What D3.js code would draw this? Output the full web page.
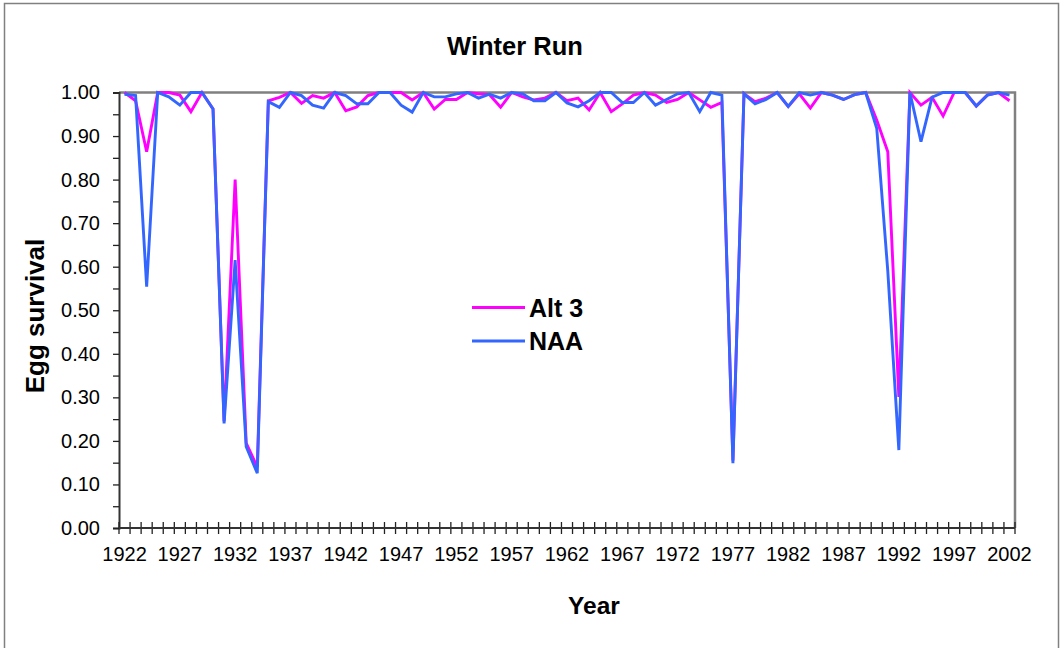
<!DOCTYPE html>
<html>
<head>
<meta charset="utf-8">
<script src="https://cdn.jsdelivr.net/npm/d3@7"></script>
<style>
	body { margin: 0; background: #fff; }
	svg text { font-family: Arial, 'Liberation Sans', sans-serif; fill: #000; }
</style>
</head>
<body>
<svg id="chart" width="1063" height="648"></svg>
<script>
// years on the category axis
var years = d3.range(1922, 2003);

var tickYears = d3.range(1922, 2003, 5);

// egg survival
var alt3 = [1.000, 0.981, 0.864, 1.000, 1.000, 0.994, 0.956, 1.000, 0.962, 0.245,
	0.800, 0.195, 0.140, 0.981, 0.989, 1.000, 0.975, 0.993, 0.987, 1.000,
	0.958, 0.967, 0.993, 1.000, 1.000, 1.000, 0.983, 1.000, 0.962, 0.984,
	0.984, 1.000, 0.997, 0.995, 0.966, 1.000, 0.990, 0.983, 0.987, 1.000,
	0.981, 0.987, 0.960, 1.000, 0.956, 0.974, 0.994, 1.000, 0.994, 0.977,
	0.984, 1.000, 0.983, 0.966, 0.977, 0.155, 0.997, 0.979, 0.987, 1.000,
	0.968, 0.997, 0.964, 1.000, 0.994, 0.984, 0.995, 1.000, 0.937, 0.864,
	0.301, 1.000, 0.971, 0.989, 0.946, 1.000, 1.000, 0.969, 0.994, 1.000,
	0.981];

var naa = [0.996, 0.993, 0.554, 1.000, 0.990, 0.971, 1.000, 1.000, 0.962, 0.240,
	0.615, 0.187, 0.126, 0.979, 0.966, 1.000, 0.993, 0.971, 0.964, 1.000,
	0.993, 0.974, 0.974, 1.000, 1.000, 0.971, 0.955, 1.000, 0.990, 0.990,
	0.997, 1.000, 0.987, 0.996, 0.987, 1.000, 0.997, 0.981, 0.981, 1.000,
	0.976, 0.967, 0.981, 1.000, 1.000, 0.977, 0.977, 1.000, 0.971, 0.984,
	0.997, 1.000, 0.956, 1.000, 0.994, 0.149, 0.997, 0.974, 0.984, 1.000,
	0.968, 1.000, 0.994, 1.000, 0.994, 0.984, 0.995, 1.000, 0.918, 0.590,
	0.179, 1.000, 0.887, 0.989, 1.000, 1.000, 1.000, 0.969, 0.994, 1.000,
	0.994];

var seriesNames = ['Alt 3', 'NAA'];
var seriesColors = ['#FF00FF', '#3366FF'];

var svg = d3.select('#chart');

var plotLeft = 119, plotRight = 1015, plotTop = 92.5, plotBottom = 528;

var x = d3.scaleBand().domain(years).range([plotLeft, plotRight]);
var y = d3.scaleLinear().domain([0, 1]).range([plotBottom, plotTop]);

getX = function(d, i){
	return x(years[i]) + x.bandwidth() / 2;
};

// outer chart border
addFrame = function(){
	svg.append('rect')
		.attr('x', 4.5)
		.attr('y', 3.5)
		.attr('width', 1054)
		.attr('height', 660)
		.attr('fill', 'none')
		.attr('stroke', '#808080')
		.attr('stroke-width', 1.5);

	// plot area, grey on top and right
	svg.append('path')
		.attr('d', 'M' + plotLeft + ',' + plotTop + 'H' + plotRight + 'V' + plotBottom)
		.attr('fill', 'none')
		.attr('stroke', '#808080')
		.attr('stroke-width', 2.5);
};

addAxes = function(){
	var yAxis = d3.axisLeft(y)
		.tickValues(d3.range(0, 21).map(function(i){ return i * 0.05; }))
		.tickSize(6)
		.tickPadding(13)
		.tickFormat(function(d){
			return Math.round(d * 100) % 10 === 0 ? d3.format('.2f')(d) : '';
		});

	var gy = svg.append('g')
		.attr('transform', 'translate(' + plotLeft + ',0)')
		.call(yAxis);
	gy.select('.domain').attr('stroke', '#333').attr('stroke-width', 2);
	gy.selectAll('.tick line').attr('stroke', '#222').attr('stroke-width', 1.3);
	gy.selectAll('.tick text').style('font-size', '20px');

	// x axis: ticks on the category boundaries, crossing the line
	var gx = svg.append('g');
	gx.selectAll('line.xt')
		.data(d3.range(0, years.length + 1))
		.enter()
		.append('line')
		.attr('class', 'xt')
		.attr('x1', function(i){ return plotLeft + i * x.bandwidth(); })
		.attr('x2', function(i){ return plotLeft + i * x.bandwidth(); })
		.attr('y1', plotBottom - 6)
		.attr('y2', plotBottom + 6)
		.attr('stroke', '#222')
		.attr('stroke-width', 1.3);
	gx.append('line')
		.attr('x1', plotLeft)
		.attr('x2', plotRight)
		.attr('y1', plotBottom)
		.attr('y2', plotBottom)
		.attr('stroke', '#333')
		.attr('stroke-width', 2);

	gx.selectAll('text.xl')
		.data(tickYears)
		.enter()
		.append('text')
		.attr('class', 'xl')
		.attr('x', function(d){ return x(d) + x.bandwidth() / 2; })
		.attr('y', 561)
		.attr('text-anchor', 'middle')
		.style('font-size', '20px')
		.text(function(d){ return d; });
};

addLines = function(){
	var line = d3.line()
		.x(getX)
		.y(function(d){ return y(d); });

	svg.append('g')
		.selectAll('path')
		.data([alt3, naa])
		.enter()
		.append('path')
		.attr('d', line)
		.attr('fill', 'none')
		.attr('stroke', function(d, i){ return seriesColors[i]; })
		.attr('stroke-width', 2.9)
		.attr('stroke-linejoin', 'miter');
};

addLegend = function(){
	var lg = svg.append('g')
		.selectAll('g')
		.data(seriesNames)
		.enter()
		.append('g')
		.attr('transform', function(d, i){ return 'translate(472,' + (307.5 + i * 33.5) + ')'; });
	lg.append('line')
		.attr('x1', 0)
		.attr('x2', 53)
		.attr('stroke', function(d, i){ return seriesColors[i]; })
		.attr('stroke-width', 2.9);
	lg.append('text')
		.attr('x', 57)
		.attr('y', 9)
		.style('font-size', '25px')
		.style('font-weight', 'bold')
		.text(function(d){ return d; });
};

addTitles = function(){
	svg.append('text')
		.attr('x', 515)
		.attr('y', 55)
		.attr('text-anchor', 'middle')
		.style('font-size', '25.5px')
		.style('font-weight', 'bold')
		.text('Winter Run');

	svg.append('text')
		.attr('x', 594)
		.attr('y', 614)
		.attr('text-anchor', 'middle')
		.style('font-size', '24.5px')
		.style('font-weight', 'bold')
		.text('Year');

	svg.append('text')
		.attr('transform', 'translate(44,316) rotate(-90)')
		.attr('text-anchor', 'middle')
		.style('font-size', '26px')
		.style('font-weight', 'bold')
		.text('Egg survival');
};

addFrame();
addLines();
addAxes();
addLegend();
addTitles();
</script>
</body>
</html>
